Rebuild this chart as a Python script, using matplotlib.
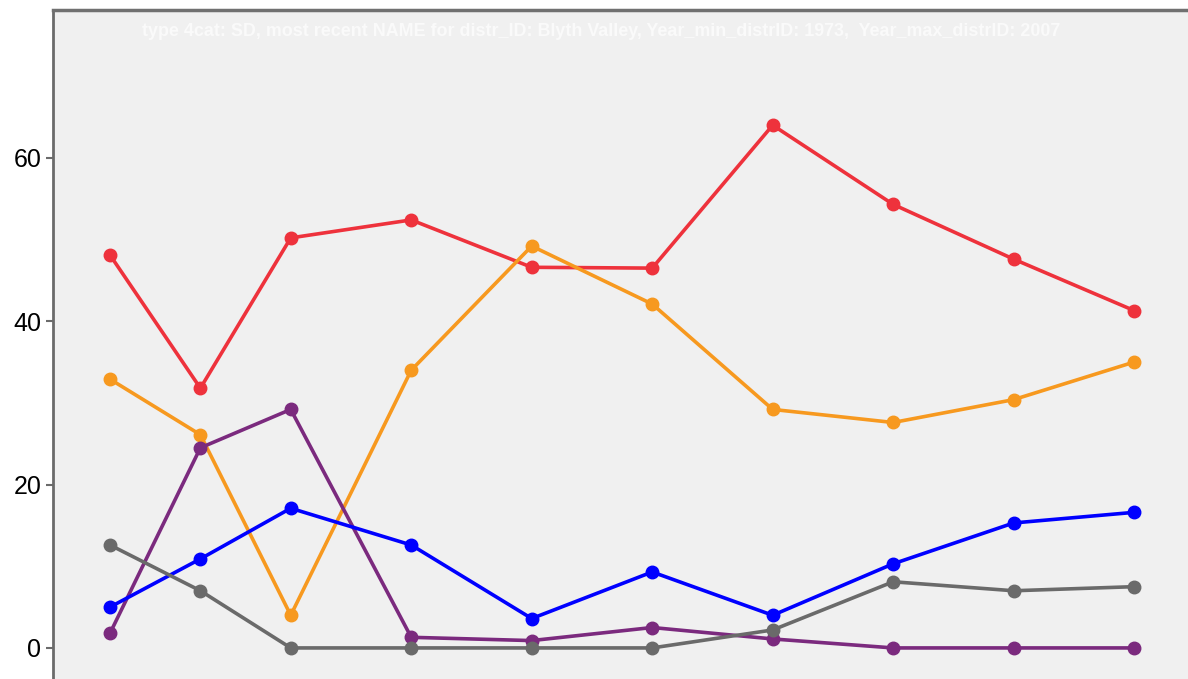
import numpy as np
import matplotlib.pyplot as plt

# election years and shares per party
years = [1973, 1976, 1979, 1983, 1987, 1991, 1995, 1999, 2003, 2007]
red = [48.1, 31.8, 50.2, 52.4, 46.6, 46.5, 64.0, 54.3, 47.6, 41.3]
orange = [32.9, 26.1, 4.0, 34.0, 49.2, 42.1, 29.2, 27.6, 30.4, 35.0]
purple = [1.8, 24.5, 29.2, 1.3, 0.9, 2.5, 1.1, 0.0, 0.0, 0.0]
blue = [5.0, 10.9, 17.1, 12.6, 3.6, 9.3, 4.0, 10.3, 15.3, 16.6]
grey = [12.6, 7.0, 0.0, 0.0, 0.0, 0.0, 2.2, 8.1, 7.0, 7.5]
yticks = [0, 20, 40, 60]
title = ("type 4cat: SD, most recent NAME for distr_ID: Blyth Valley, "
         "Year_min_distrID: 1973,  Year_max_distrID: 2007")

fig = plt.figure(figsize=(11.88, 6.79), dpi=100)
ax = fig.add_axes([53/1188, -0.05, 1.05 - 53/1188, 0.05 + 1 - 10/679])
ax.set_facecolor('#f0f0f0')

series = [(red, '#ee323c'), (orange, '#f7991f'), (purple, '#7b2a7e'),
          (blue, '#0000ff'), (grey, '#6a6a6a')]
for vals, c in series:
    ax.plot(years, vals, color=c, lw=2.6, marker='o', ms=9, zorder=3)

ax.set_xlim(1971.107, 2010.76)
ax.set_ylim(-7.96, 78.1)
ax.set_yticks(yticks)
ax.set_xticks([])
ax.tick_params(axis='y', labelsize=18, length=5, width=1.5, color='#6b6b6b')
for lab in ax.get_yticklabels():
    lab.set_fontfamily('Liberation Sans')
for s in ['right', 'bottom']:
    ax.spines[s].set_visible(False)
ax.spines['left'].set_color('#6b6b6b')
ax.spines['left'].set_linewidth(2)
ax.spines['top'].set_color('#707070')
ax.spines['top'].set_linewidth(2.5)

fig.text(601/1188, 1 - 32/679, title, color='#fafafa', fontsize=12.9,
         fontweight='bold', family=['Liberation Sans', 'DejaVu Sans'],
         ha='center', va='center')

fig.savefig('out.png', dpi=100)
